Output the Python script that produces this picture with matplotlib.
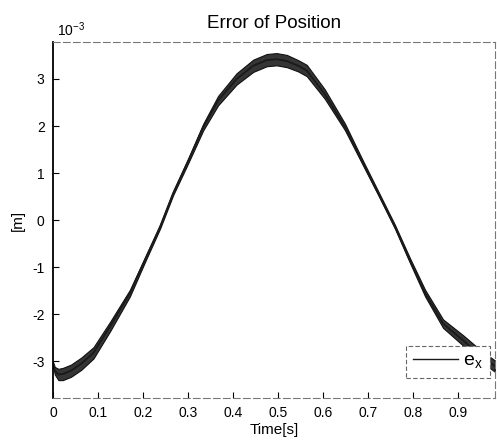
import matplotlib
matplotlib.use("Agg")
import matplotlib.pyplot as plt
import numpy as np

plt.rcParams['font.family'] = ['Liberation Sans', 'DejaVu Sans']
plt.rcParams['mathtext.fontset'] = 'custom'
plt.rcParams['mathtext.rm'] = 'Liberation Sans'

# data (values in units of 1e-3 m)
time_s = [0.0, 0.004, 0.012, 0.022, 0.04, 0.063, 0.09, 0.127, 0.171, 0.204,
          0.238, 0.267, 0.301, 0.334, 0.367, 0.408, 0.445, 0.475, 0.497, 0.52,
          0.545, 0.564, 0.604, 0.649, 0.686, 0.723, 0.76, 0.793, 0.827, 0.867,
          0.912, 0.95, 0.982]
ex_center = [-3.05, -3.20, -3.28, -3.27, -3.20, -3.05, -2.82, -2.26, -1.55, -0.85,
             -0.14, 0.57, 1.27, 1.98, 2.54, 3.00, 3.28, 3.40, 3.42, 3.38,
             3.28, 3.18, 2.68, 1.98, 1.27, 0.57, -0.14, -0.85, -1.55, -2.20,
             -2.56, -2.88, -3.10]
ex_halfband = [0.04, 0.08, 0.12, 0.13, 0.13, 0.13, 0.12, 0.10, 0.07, 0.05,
               0.04, 0.04, 0.05, 0.07, 0.10, 0.12, 0.13, 0.13, 0.13, 0.13,
               0.12, 0.12, 0.10, 0.07, 0.05, 0.04, 0.04, 0.05, 0.07, 0.09,
               0.11, 0.12, 0.12]
x_ticks = [0, 0.1, 0.2, 0.3, 0.4, 0.5, 0.6, 0.7, 0.8, 0.9]
y_ticks = [-3, -2, -1, 0, 1, 2, 3]

t = np.array(time_s)
c = np.array(ex_center)
h = np.array(ex_halfband)

fig = plt.figure(figsize=(4.97, 4.43), dpi=100)
ax = fig.add_axes([0.1066, 0.1016, 0.889, 0.803])

ax.fill_between(t, c - h, c + h, color='#353535', linewidth=0.8, edgecolor='#111111')
line, = ax.plot(t, c, color='#1a1a1a', linewidth=1.3, label=r'e$_{\rm x}$')

ax.set_xlim(0, 0.982)
ax.set_ylim(-3.78, 3.78)
ax.set_xticks(x_ticks)
ax.set_xticklabels([('%g' % v) for v in x_ticks])
ax.set_yticks(y_ticks)
ax.set_yticklabels([str(v) for v in y_ticks])
ax.tick_params(direction='in', length=4, labelsize=10, width=0.8, pad=6)

for side in ['top', 'bottom', 'right']:
    ax.spines[side].set_linestyle((0, (6, 3)))
    ax.spines[side].set_color('#777777')
    ax.spines[side].set_linewidth(0.8)
ax.spines['left'].set_linewidth(1.3)
ax.spines['left'].set_color('black')

ax.set_title('Error of Position', fontsize=13.5, pad=10)
ax.set_xlabel('Time[s]', fontsize=11, labelpad=2)
ax.set_ylabel('[m]', fontsize=11, labelpad=5)
ax.text(0.01, 1.008, r'$10^{-3}$', transform=ax.transAxes, fontsize=10,
        ha='left', va='bottom')

leg = ax.legend(handles=[line], loc='lower right', bbox_to_anchor=(0.989, 0.056),
                fontsize=14, frameon=True, fancybox=False, framealpha=1.0,
                handlelength=2.3, borderpad=0.35, handletextpad=0.3,
                borderaxespad=0.0)
leg.get_frame().set_edgecolor('#666666')
leg.get_frame().set_linestyle((0, (4, 2)))
leg.get_frame().set_linewidth(0.8)
for lh in leg.get_lines():
    lh.set_linewidth(1.0)

fig.savefig('out.png', dpi=100)
